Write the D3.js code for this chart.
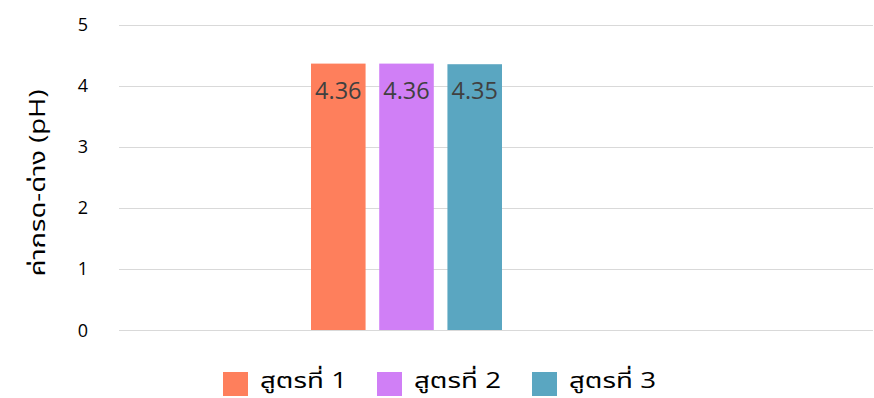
<!DOCTYPE html>
<html><head><meta charset="utf-8">
<script src="https://cdn.jsdelivr.net/npm/d3@7"></script>
<style>body{margin:0;background:#fff}svg{display:block}</style>
</head><body>
<script>
const seriesNames = ["สูตรที่ 1", "สูตรที่ 2", "สูตรที่ 3"];
const seriesValues = [4.36, 4.36, 4.35];
const seriesColors = ["#fe7f5c", "#d07ff6", "#5aa6c1"];
const yTicks = [0, 1, 2, 3, 4, 5];
const yTitle = "ค่ากรด-ด่าง (pH)";

const W = 874, H = 398;
const font = "'Open Sans', 'Noto Sans Thai', 'Noto Sans', sans-serif";
const svg = d3.select("body").append("svg").attr("width", W).attr("height", H);

const y = d3.scaleLinear().domain([0, 5]).range([330, 24.5]);
const x = d3.scaleBand().domain(seriesNames).range([311, 502]).paddingInner(0.2);

// gridlines
svg.append("g").selectAll("line").data(yTicks).join("line")
  .attr("x1", 119).attr("x2", 873)
  .attr("y1", d => Math.round(y(d)) + 0.5).attr("y2", d => Math.round(y(d)) + 0.5)
  .attr("stroke", "#d9d9d9").attr("stroke-width", 1);

// y tick labels
svg.append("g").selectAll("text").data(yTicks).join("text")
  .attr("x", 83).attr("y", d => y(d) + 6.5)
  .attr("text-anchor", "middle")
  .attr("font-family", font).attr("font-size", 18).attr("fill", "#000")
  .text(d => d);

// y title
svg.append("text")
  .attr("transform", "translate(45,183) rotate(-90)")
  .attr("text-anchor", "middle")
  .attr("font-family", font).attr("font-size", 22).attr("fill", "#000")
  .attr("textLength", 187).attr("lengthAdjust", "spacingAndGlyphs")
  .text(yTitle);

// bars
svg.append("g").selectAll("rect").data(seriesNames).join("rect")
  .attr("x", d => x(d)).attr("width", x.bandwidth())
  .attr("y", (d, i) => y(seriesValues[i]))
  .attr("height", (d, i) => y(0) - y(seriesValues[i]))
  .attr("fill", (d, i) => seriesColors[i]);

// labels
svg.append("g").selectAll("text").data(seriesNames).join("text")
  .attr("x", d => x(d) + x.bandwidth() / 2)
  .attr("y", (d, i) => y(seriesValues[i]) + 35)
  .attr("text-anchor", "middle")
  .attr("font-family", font).attr("font-size", 23.5).attr("fill", "#404040")
  .text((d, i) => seriesValues[i].toFixed(2));

// legend
const legX = [223, 377, 532];
const lg = svg.append("g").selectAll("g").data(seriesNames).join("g")
  .attr("transform", (d, i) => `translate(${legX[i]},372)`);
lg.append("rect").attr("width", 25).attr("height", 24)
  .attr("fill", (d, i) => seriesColors[i]);
lg.append("text").attr("x", 37).attr("y", 16)
  .attr("font-family", font).attr("font-size", 22).attr("fill", "#000")
  .attr("textLength", 87).attr("lengthAdjust", "spacingAndGlyphs")
  .text(d => d);
</script>
</body></html>
